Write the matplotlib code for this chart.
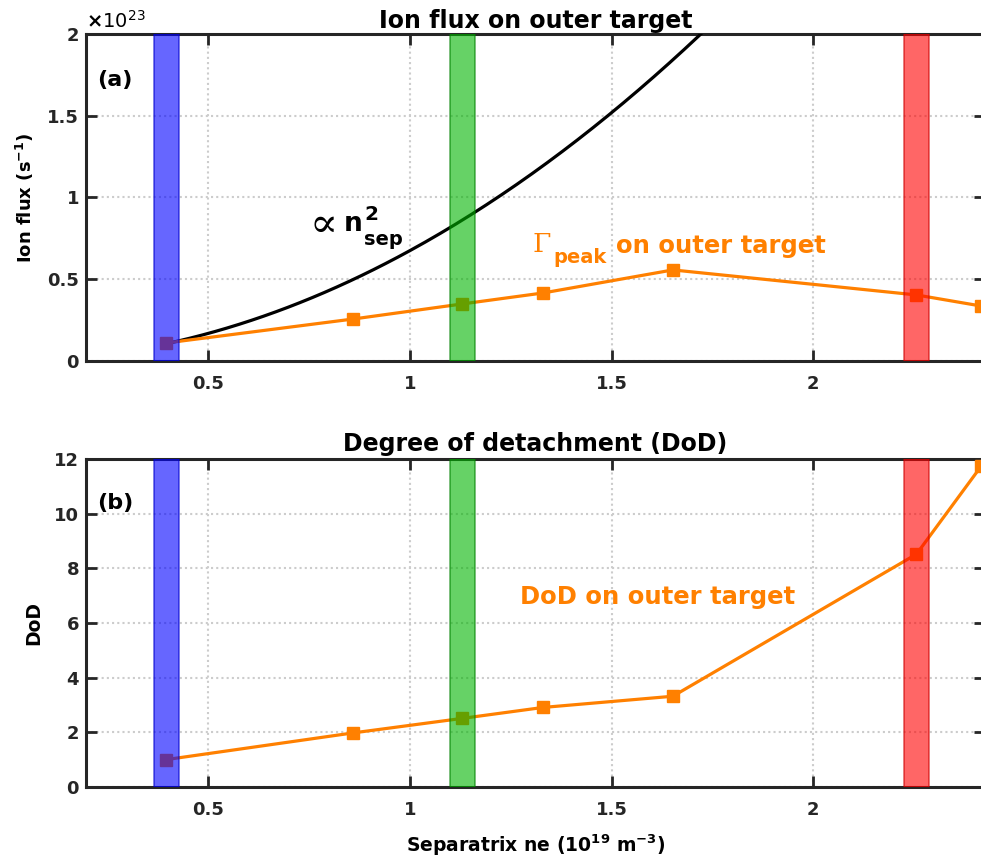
import numpy as np
import matplotlib
matplotlib.use("Agg")
import matplotlib.pyplot as plt
from matplotlib.ticker import FormatStrFormatter

plt.rcParams['font.family'] = ['DejaVu Sans']
plt.rcParams['font.weight'] = 'bold'
plt.rcParams['axes.titleweight'] = 'bold'
plt.rcParams['axes.labelweight'] = 'bold'
plt.rcParams['mathtext.fontset'] = 'custom'
plt.rcParams['mathtext.rm'] = 'DejaVu Sans'
plt.rcParams['mathtext.bf'] = 'DejaVu Sans:bold'

# separatrix density (1e19 m^-3)
ne_sep = [0.395, 0.86, 1.13, 1.33, 1.652, 2.256, 2.417]
# peak ion flux on outer target (1e23 s^-1)
gamma_peak = [0.11, 0.257, 0.349, 0.416, 0.557, 0.404, 0.336]
# degree of detachment
dod = [1.0, 1.98, 2.51, 2.91, 3.32, 8.52, 11.75]

# highlighted cases
band_centers = [0.397, 1.13, 2.256]
band_colors = ['#0000ff', '#00b400', '#ff0000']
band_edges = ['#0000cc', '#008000', '#cc0000']
band_halfwidth = 0.031

# n_sep^2 reference scaling coefficient (1e23 s^-1 per (1e19 m^-3)^2)
n2_coef = 0.675

orange = '#ff8000'
dark = '#262626'

xticks = [0.5, 1, 1.5, 2]
flux_ticks = [0, 0.5, 1, 1.5, 2]
dod_ticks = [0, 2, 4, 6, 8, 10, 12]
xlim = (0.197, 2.425)


def style_axes(ax):
    for sp in ax.spines.values():
        sp.set_linewidth(2.2)
        sp.set_color(dark)
    ax.tick_params(direction='in', length=8, width=2, top=True, right=True,
                   labelsize=13, colors=dark)
    ax.tick_params(axis='x', pad=10)
    ax.tick_params(axis='y', pad=5)
    ax.grid(True, linestyle=(0, (1, 1.5)), linewidth=1.5, color='0.8')
    ax.set_axisbelow(True)
    ax.set_xlim(*xlim)
    ax.set_xticks(xticks)
    ax.xaxis.set_major_formatter(FormatStrFormatter('%g'))
    ax.yaxis.set_major_formatter(FormatStrFormatter('%g'))


def add_bands(ax):
    for c, fc, ec in zip(band_centers, band_colors, band_edges):
        ax.axvspan(c - band_halfwidth, c + band_halfwidth, facecolor=fc,
                   alpha=0.6, edgecolor=ec, linewidth=1.2, zorder=5)


fig = plt.figure(figsize=(9.81, 8.63), dpi=100)
ax1 = fig.add_axes([0.0877, 0.5817, 0.916, 0.3789])
ax2 = fig.add_axes([0.0877, 0.0881, 0.916, 0.3800])

# --- (a) ion flux ---
style_axes(ax1)
nn = np.linspace(ne_sep[0], 1.9, 200)
ax1.plot(nn, n2_coef * nn ** 2, color='black', lw=2.3, zorder=3)
ax1.plot(ne_sep, gamma_peak, color=orange, lw=2.3, marker='s',
         markersize=8, zorder=4)
add_bands(ax1)
ax1.set_ylim(0, 2)
ax1.set_yticks(flux_ticks)
ax1.set_ylabel('Ion flux (s$^{\\mathbf{-1}}$)', fontsize=13, labelpad=8)
ax1.set_title('Ion flux on outer target', fontsize=17, pad=4)
ax1.text(0.0, 1.008, r'$\times\mathregular{10^{23}}$', transform=ax1.transAxes,
         fontsize=14, fontweight='normal', ha='left', va='bottom')
ax1.text(0.012, 0.86, '(a)', transform=ax1.transAxes, fontsize=16,
         ha='left', va='center')

# "∝ n_sep^2" label, built from pieces to match the sizes
ax1.text(0.752, 0.832, '\u221d', fontsize=30, fontweight='normal',
         family='DejaVu Serif', ha='left', va='center', color='black')
ax1.text(0.835, 0.795, 'n', fontsize=19, ha='left', va='baseline')
ax1.text(0.886, 0.862, '2', fontsize=14.5, ha='left', va='baseline')
ax1.text(0.886, 0.709, 'sep', fontsize=14, ha='left', va='baseline')

# "Γ_peak on outer target" label
ax1.text(1.305, 0.667, '\u0393', fontsize=19, fontweight='normal',
         family='DejaVu Serif', ha='left', va='baseline', color=orange)
ax1.text(1.355, 0.599, 'peak', fontsize=14, ha='left', va='baseline',
         color=orange)
ax1.text(1.512, 0.661, 'on outer target', fontsize=17.5, ha='left',
         va='baseline', color=orange)

# --- (b) degree of detachment ---
style_axes(ax2)
ax2.plot(ne_sep, dod, color=orange, lw=2.3, marker='s', markersize=8,
         zorder=4)
add_bands(ax2)
ax2.set_ylim(0, 12)
ax2.set_yticks(dod_ticks)
ax2.set_ylabel('DoD', fontsize=13.5, labelpad=8)
ax2.set_xlabel('Separatrix ne (10$^{\\mathbf{19}}$ m$^{\\mathbf{-3}}$)',
               fontsize=13.5, labelpad=10)
ax2.set_title('Degree of detachment (DoD)', fontsize=17, pad=6)
ax2.text(0.012, 0.866, '(b)', transform=ax2.transAxes, fontsize=16,
         ha='left', va='center')
ax2.text(1.273, 6.95, 'DoD on outer target', fontsize=17.5, ha='left',
         va='center', color=orange)

fig.savefig('out.png', dpi=100)
